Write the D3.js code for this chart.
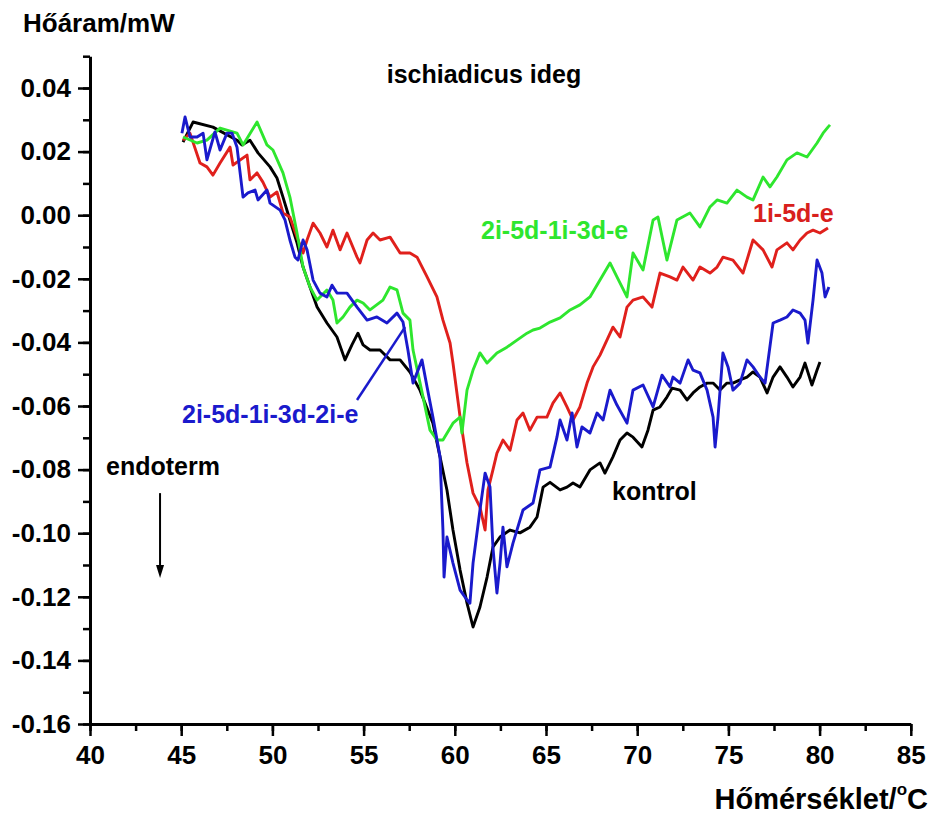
<!DOCTYPE html>
<meta charset="utf-8">
<style>
body { margin: 0; background: #fff; }
text { font-family: "Liberation Sans", Arial, sans-serif; font-weight: bold; }
.axis path, .axis line { stroke: #000; }
.axis text { font-size: 26px; fill: #000; }
.curve { fill: none; stroke-width: 2.9px; stroke-linejoin: round; }
</style>
<svg width="932" height="817"></svg>
<script src="https://d3js.org/d3.v7.min.js"></script>
<script>

// heat flow (mW) vs temperature (°C)
var kontrol = [
  [45.10,0.0230],[45.65,0.0293],[46.74,0.0277],[48.06,0.0236],[48.33,0.0221],[48.77,0.0236],
  [49.21,0.0196],[49.87,0.0152],[50.25,0.0117],[50.58,0.0057],[50.96,-0.0015],[51.35,-0.0087],
  [51.68,-0.0163],[52.06,-0.0226],[52.45,-0.0289],[52.99,-0.0339],[53.54,-0.0383],[53.98,-0.0455],
  [54.36,-0.0408],[54.69,-0.0371],[54.97,-0.0408],[55.35,-0.0424],[55.90,-0.0424],[56.45,-0.0455],
  [57.00,-0.0455],[57.54,-0.0493],[58.09,-0.0550],[58.80,-0.0654],[59.19,-0.0760],[59.57,-0.0864],
  [59.90,-0.0990],[60.29,-0.1116],[60.67,-0.1220],[61.00,-0.1295],[61.38,-0.1232],[61.77,-0.1138],
  [62.09,-0.1044],[62.48,-0.1012],[63.03,-0.0990],[63.57,-0.0999],[64.12,-0.0981],[64.51,-0.0949],
  [64.84,-0.0855],[65.22,-0.0840],[65.77,-0.0864],[66.15,-0.0855],[66.48,-0.0842],[66.86,-0.0855],
  [67.41,-0.0801],[67.96,-0.0779],[68.23,-0.0811],[68.67,-0.0760],[69.06,-0.0707],[69.44,-0.0685],
  [69.77,-0.0698],[70.26,-0.0729],[70.59,-0.0676],[70.87,-0.0613],[71.25,-0.0603],[71.63,-0.0572],
  [71.91,-0.0544],[72.35,-0.0550],[72.73,-0.0581],[73.06,-0.0559],[73.44,-0.0540],[73.83,-0.0528],
  [74.16,-0.0528],[74.54,-0.0550],[74.92,-0.0528],[75.25,-0.0528],[75.64,-0.0518],[76.02,-0.0509],
  [76.35,-0.0493],[76.73,-0.0509],[77.12,-0.0559],[77.45,-0.0509],[77.83,-0.0477],[78.21,-0.0509],
  [78.54,-0.0540],[78.93,-0.0509],[79.20,-0.0465],[79.58,-0.0534],[79.86,-0.0487],[80.02,-0.0462]
];

var s1i5de = [
  [45.10,0.0236],[45.48,0.0258],[46.03,0.0164],[46.41,0.0152],[46.74,0.0126],[47.13,0.0164],
  [47.68,0.0214],[47.84,0.0158],[48.61,0.0189],[48.77,0.0111],[49.16,0.0133],[49.48,0.0104],
  [49.87,0.0057],[50.25,0.0073],[50.58,0.0007],[50.96,-0.0006],[51.35,-0.0069],[51.68,-0.0119],
  [51.90,-0.0078],[52.23,-0.0025],[52.61,-0.0056],[52.99,-0.0100],[53.32,-0.0047],[53.71,-0.0109],
  [54.09,-0.0056],[54.64,-0.0132],[54.80,-0.0150],[55.19,-0.0078],[55.52,-0.0056],[55.90,-0.0078],
  [56.45,-0.0069],[57.00,-0.0119],[57.54,-0.0119],[57.93,-0.0132],[58.48,-0.0194],[59.02,-0.0257],
  [59.35,-0.0330],[59.74,-0.0402],[59.90,-0.0465],[60.29,-0.0635],[60.67,-0.0779],[61.00,-0.0874],
  [61.38,-0.0918],[61.66,-0.0990],[61.82,-0.0864],[62.09,-0.0801],[62.31,-0.0748],[62.64,-0.0707],
  [63.03,-0.0739],[63.41,-0.0644],[63.74,-0.0622],[64.12,-0.0676],[64.51,-0.0635],[65.05,-0.0635],
  [65.38,-0.0591],[65.77,-0.0559],[66.15,-0.0603],[66.48,-0.0644],[66.86,-0.0603],[67.25,-0.0528],
  [67.58,-0.0477],[67.96,-0.0440],[68.34,-0.0393],[68.67,-0.0352],[69.06,-0.0383],[69.44,-0.0289],
  [69.77,-0.0267],[70.32,-0.0257],[70.81,-0.0289],[71.25,-0.0182],[71.80,-0.0194],[72.18,-0.0204],
  [72.51,-0.0163],[73.06,-0.0204],[73.44,-0.0163],[73.99,-0.0182],[74.38,-0.0163],[74.70,-0.0132],
  [75.25,-0.0141],[75.80,-0.0182],[76.35,-0.0078],[76.90,-0.0109],[77.39,-0.0163],[77.66,-0.0109],
  [78.21,-0.0087],[78.54,-0.0109],[78.93,-0.0078],[79.31,-0.0056],[79.64,-0.0047],[80.02,-0.0056],
  [80.46,-0.0040]
];

var s2i5d1i3de = [
  [45.10,0.0246],[45.87,0.0227],[46.41,0.0236],[47.13,0.0274],[48.06,0.0258],[48.39,0.0221],
  [49.16,0.0293],[49.70,0.0221],[50.03,0.0205],[50.58,0.0133],[50.96,0.0057],[51.35,-0.0056],
  [51.68,-0.0163],[52.06,-0.0226],[52.45,-0.0267],[52.99,-0.0235],[53.32,-0.0267],[53.54,-0.0339],
  [53.87,-0.0320],[54.25,-0.0289],[54.64,-0.0267],[54.97,-0.0276],[55.35,-0.0298],[56.06,-0.0267],
  [56.45,-0.0226],[56.83,-0.0235],[57.16,-0.0308],[57.54,-0.0330],[57.71,-0.0424],[58.26,-0.0572],
  [58.64,-0.0676],[59.02,-0.0707],[59.35,-0.0707],[59.90,-0.0654],[60.29,-0.0635],[60.39,-0.0685],
  [60.67,-0.0550],[61.00,-0.0487],[61.38,-0.0433],[61.77,-0.0465],[62.31,-0.0433],[62.86,-0.0415],
  [63.41,-0.0393],[63.96,-0.0371],[64.29,-0.0361],[64.67,-0.0355],[65.22,-0.0336],[65.77,-0.0323],
  [66.32,-0.0298],[66.86,-0.0282],[67.41,-0.0257],[67.96,-0.0204],[68.51,-0.0150],[68.89,-0.0194],
  [69.44,-0.0257],[69.77,-0.0119],[70.32,-0.0172],[70.87,-0.0015],[71.14,-0.0006],[71.63,-0.0141],
  [72.18,-0.0015],[72.89,0.0007],[73.44,-0.0037],[73.99,0.0026],[74.38,0.0048],[74.92,0.0038],
  [75.47,0.0079],[76.02,0.0057],[76.35,0.0048],[76.90,0.0120],[77.28,0.0089],[77.66,0.0120],
  [78.21,0.0174],[78.76,0.0196],[79.31,0.0183],[79.86,0.0227],[80.19,0.0258],[80.46,0.0277],
  [80.57,0.0284]
];

var s2i5d1i3d2ie = [
  [45.04,0.0258],[45.21,0.0309],[45.48,0.0246],[45.87,0.0246],[46.20,0.0258],[46.41,0.0174],
  [46.85,0.0262],[47.13,0.0205],[47.51,0.0258],[47.79,0.0258],[48.06,0.0214],[48.39,0.0057],
  [48.66,0.0070],[49.05,0.0079],[49.21,0.0048],[49.70,0.0079],[49.87,0.0038],[50.42,0.0016],
  [50.69,-0.0015],[50.96,-0.0078],[51.24,-0.0132],[51.40,-0.0141],[51.68,-0.0078],[51.90,-0.0109],
  [52.23,-0.0204],[52.61,-0.0245],[52.99,-0.0257],[53.27,-0.0220],[53.54,-0.0245],[54.09,-0.0245],
  [54.64,-0.0289],[55.19,-0.0330],[55.73,-0.0320],[56.28,-0.0339],[56.83,-0.0308],[57.16,-0.0336],
  [57.43,-0.0424],[57.71,-0.0528],[58.20,-0.0455],[58.48,-0.0540],[58.80,-0.0635],[59.19,-0.0760],
  [59.35,-0.0990],[59.41,-0.1138],[59.57,-0.1012],[59.90,-0.1094],[60.29,-0.1179],[60.67,-0.1210],
  [60.83,-0.1220],[61.00,-0.1094],[61.38,-0.0927],[61.66,-0.0811],[61.93,-0.0855],[62.09,-0.1044],
  [62.31,-0.1188],[62.48,-0.1094],[62.64,-0.0981],[62.86,-0.1106],[63.19,-0.1031],[63.74,-0.0927],
  [64.29,-0.0905],[64.67,-0.0801],[65.22,-0.0792],[65.60,-0.0698],[65.77,-0.0644],[66.15,-0.0707],
  [66.43,-0.0622],[66.70,-0.0729],[66.97,-0.0666],[67.41,-0.0685],[67.80,-0.0622],[68.13,-0.0644],
  [68.51,-0.0550],[68.89,-0.0597],[69.44,-0.0654],[69.77,-0.0550],[70.32,-0.0534],[70.87,-0.0603],
  [71.36,-0.0503],[71.80,-0.0540],[71.96,-0.0509],[72.35,-0.0528],[72.79,-0.0455],[73.06,-0.0487],
  [73.44,-0.0496],[73.83,-0.0550],[74.16,-0.0635],[74.27,-0.0729],[74.43,-0.0635],[74.70,-0.0433],
  [74.98,-0.0477],[75.25,-0.0550],[75.64,-0.0528],[76.02,-0.0455],[76.35,-0.0477],[76.73,-0.0509],
  [77.01,-0.0528],[77.45,-0.0339],[77.83,-0.0330],[78.21,-0.0320],[78.54,-0.0298],[78.93,-0.0308],
  [79.20,-0.0330],[79.36,-0.0402],[79.64,-0.0267],[79.86,-0.0141],[80.13,-0.0182],[80.30,-0.0257],
  [80.51,-0.0226]
];

var xMajor = [40, 45, 50, 55, 60, 65, 70, 75, 80, 85];
var yMajor = [0.04, 0.02, 0.00, -0.02, -0.04, -0.06, -0.08, -0.10, -0.12, -0.14, -0.16];

var series = [
  { name: "kontrol", data: kontrol, color: "#000000" },
  { name: "1i-5d-e", data: s1i5de, color: "#e0201c" },
  { name: "2i-5d-1i-3d-e", data: s2i5d1i3de, color: "#2ee62e" },
  { name: "2i-5d-1i-3d-2i-e", data: s2i5d1i3d2ie, color: "#1a1acc" }
];

var svg = d3.select("svg");

var x = d3.scaleLinear().domain([40, 85]).range([90, 910.8]);
var y = d3.scaleLinear().domain([-0.16, 0.05]).range([724, 56.2]);

var fmt = function(d) { return d3.format(".2f")(d).replace("\u2212", "-"); };

// minor ticks first so the major ones sit on top
svg.append("g")
    .attr("class", "axis")
    .attr("transform", "translate(90,0)")
    .call(d3.axisLeft(y).ticks(21).tickSize(7).tickSizeOuter(0).tickFormat(""))
    .call(function(g) { g.select(".domain").remove(); })
    .selectAll("line").attr("stroke-width", 2.5);

svg.append("g")
    .attr("class", "axis")
    .attr("transform", "translate(0,724)")
    .call(d3.axisBottom(x).tickValues(d3.range(40, 85.1, 2.5)).tickSize(7).tickSizeOuter(0).tickFormat(""))
    .call(function(g) { g.select(".domain").remove(); })
    .selectAll("line").attr("stroke-width", 2.5);

var yAxis = svg.append("g")
    .attr("class", "axis")
    .attr("transform", "translate(90,0)")
    .call(d3.axisLeft(y).tickValues(yMajor).tickSize(12).tickSizeOuter(0).tickPadding(7).tickFormat(fmt));
yAxis.select(".domain").attr("stroke-width", 3);
yAxis.selectAll("line").attr("stroke-width", 2.5);

var xAxis = svg.append("g")
    .attr("class", "axis")
    .attr("transform", "translate(0,724)")
    .call(d3.axisBottom(x).tickValues(xMajor).tickSize(12).tickSizeOuter(0).tickPadding(10).tickFormat(d3.format("d")));
xAxis.select(".domain").attr("stroke-width", 3);
xAxis.selectAll("line").attr("stroke-width", 2.5);
xAxis.selectAll("text").attr("font-size", 27);

var line = d3.line()
    .x(function(d) { return x(d[0]); })
    .y(function(d) { return y(d[1]); });

svg.append("g")
    .selectAll("path")
    .data(series)
    .enter().append("path")
      .attr("class", "curve")
      .attr("stroke", function(d) { return d.color; })
      .attr("d", function(d) { return line(d.data); });

// labels
svg.append("text").attr("x", 23).attr("y", 32).attr("font-size", 26).text("Hőáram/mW");
svg.append("text").attr("x", 484).attr("y", 83).attr("font-size", 25)
    .attr("text-anchor", "middle").text("ischiadicus ideg");

var xt = svg.append("text").attr("x", 928).attr("y", 809).attr("font-size", 29).attr("text-anchor", "end");
xt.append("tspan").text("Hőmérséklet/");
xt.append("tspan").attr("font-size", 17).attr("dy", -14).text("o");
xt.append("tspan").attr("dy", 14).text("C");

svg.append("text").attr("x", 481).attr("y", 239).attr("font-size", 25).attr("fill", "#2ee62e").text("2i-5d-1i-3d-e");
svg.append("text").attr("x", 753).attr("y", 222).attr("font-size", 25).attr("fill", "#d8201c").text("1i-5d-e");
svg.append("text").attr("x", 182).attr("y", 423).attr("font-size", 25).attr("fill", "#1a1acc").text("2i-5d-1i-3d-2i-e");
svg.append("text").attr("x", 612).attr("y", 500).attr("font-size", 25).attr("fill", "#000").text("kontrol");
svg.append("text").attr("x", 106).attr("y", 475).attr("font-size", 25).attr("fill", "#000").text("endoterm");

// pointer from the blue label to its curve
svg.append("line")
    .attr("x1", x(54.64)).attr("y1", y(-0.0581))
    .attr("x2", x(57.27)).attr("y2", y(-0.0352))
    .attr("stroke", "#1a1acc").attr("stroke-width", 2.5);

// endotherm arrow
var ax = x(43.84);
svg.append("line")
    .attr("x1", ax).attr("y1", y(-0.0874))
    .attr("x2", ax).attr("y2", y(-0.1100))
    .attr("stroke", "#000").attr("stroke-width", 2);
svg.append("path")
    .attr("d", "M" + (ax - 4) + "," + y(-0.1100) + "L" + (ax + 4) + "," + y(-0.1100) + "L" + ax + "," + y(-0.1141) + "Z")
    .attr("fill", "#000");

</script>
